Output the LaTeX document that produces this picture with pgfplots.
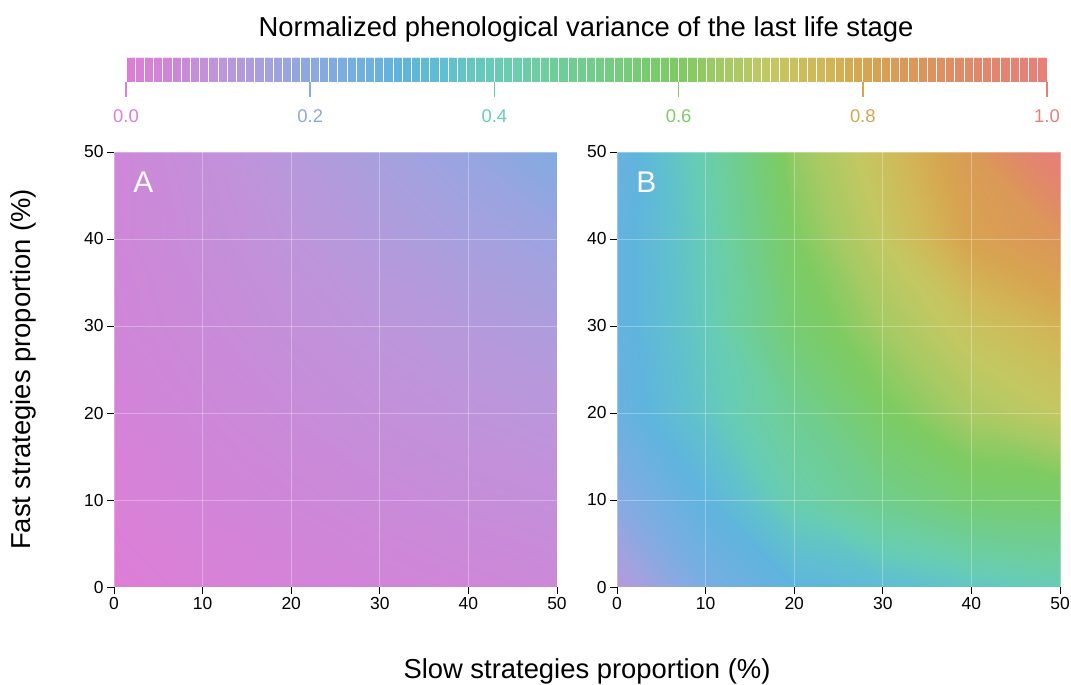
\documentclass[border=0pt]{standalone}
\usepackage{pgfplots}
\pgfplotsset{compat=1.18}
\usepackage{fontspec}
\setmainfont{Liberation Sans}
\definecolor{h0}{RGB}{222,125,215}
\definecolor{h2}{RGB}{140,168,225}
\definecolor{h4}{RGB}{103,204,182}
\definecolor{h6}{RGB}{125,203,98}
\definecolor{h8}{RGB}{215,165,80}
\definecolor{h10}{RGB}{232,126,122}
\pgfplotsset{
  colormap={hue}{
    rgb255=(222,125,215) rgb255=(206,135,216) rgb255=(190,148,218) rgb255=(168,160,222) rgb255=(140,168,225)
    rgb255=(116,175,225) rgb255=(95,180,222) rgb255=(96,192,206) rgb255=(103,204,182) rgb255=(108,206,160)
    rgb255=(113,205,140) rgb255=(118,204,118) rgb255=(125,203,98) rgb255=(165,202,100) rgb255=(195,200,98)
    rgb255=(208,185,88) rgb255=(215,165,80) rgb255=(219,152,88) rgb255=(224,140,100) rgb255=(228,132,112)
    rgb255=(232,126,122)
  },
  panel/.style={
    width=443bp, height=435bp, scale only axis,
    xmin=0, xmax=50, ymin=0, ymax=50,
    xtick={0,10,20,30,40,50}, ytick={0,10,20,30,40,50},
    axis line style={draw=none},
    tick align=outside, major tick length=7bp,
    tick style={black, line width=0.8bp},
    tick pos=left,
    tick label style={font=\fontsize{17.5}{18}\selectfont},
    /pgf/number format/assume math mode=true,
    grid=major, grid style={white, opacity=0.3, line width=0.7bp},
    axis on top,
    colormap name=hue, point meta min=0, point meta max=1,
    enlargelimits=false,
  }
}
\begin{document}
\begin{tikzpicture}
\useasboundingbox (0,0) rectangle (1071bp,685bp);
% Panel A
\begin{axis}[panel, at={(114bp,98bp)}, anchor=south west,
  ylabel={Fast strategies proportion (\%)},
  ylabel style={at={(axis description cs:-0.204,0.5)}, anchor=center, font=\fontsize{27.5}{30}\selectfont},
  xlabel={Slow strategies proportion (\%)},
  xlabel style={at={(axis description cs:1.0677,-0.193)}, anchor=center, font=\fontsize{27.5}{30}\selectfont},
  title={Normalized phenological variance of the last life stage},
  title style={at={(axis description cs:1.0658,1.269)}, anchor=center, font=\fontsize{27.5}{30}\selectfont},
  colorbar horizontal,
  colorbar sampled={surf, mark=none, shader=faceted, faceted color=white, line width=1bp},
  colorbar style={
    at={(parent axis.north west)}, anchor=south west, xshift=12bp, yshift=78bp,
    width=921bp, height=25bp, scale only axis,
    samples=101,
    xtick={0,0.2,0.4,0.6,0.8,1},
    xticklabels={\textcolor{h0}{0.0},\textcolor{h2}{0.2},\textcolor{h4}{0.4},\textcolor{h6}{0.6},\textcolor{h8}{0.8},\textcolor{h10}{1.0}},
    xtick style={draw=none}, major tick length=15bp, tick align=outside,
    xticklabel style={font=\fontsize{18.5}{20}\selectfont, yshift=-9bp},
    axis line style={draw=none},
    after end axis/.code={
      \draw[h0, line width=1.5bp] (rel axis cs:0,0) -- ++(0,-15bp);
      \draw[h2, line width=1.5bp] (rel axis cs:0.2,0) -- ++(0,-15bp);
      \draw[h4, line width=1.5bp] (rel axis cs:0.4,0) -- ++(0,-15bp);
      \draw[h6, line width=1.5bp] (rel axis cs:0.6,0) -- ++(0,-15bp);
      \draw[h8, line width=1.5bp] (rel axis cs:0.8,0) -- ++(0,-15bp);
      \draw[h10, line width=1.5bp] (rel axis cs:1,0) -- ++(0,-15bp);
    },
  },
]
\addplot[surf, shader=interp, mesh/cols=6, point meta=explicit] table[meta=z] {
x y z
0 0 0.000
10 0 0.018
20 0 0.030
30 0 0.040
40 0 0.050
50 0 0.058
0 10 0.018
10 10 0.036
20 10 0.050
30 10 0.063
40 10 0.074
50 10 0.082
0 20 0.032
10 20 0.052
20 20 0.068
30 20 0.084
40 20 0.098
50 20 0.110
0 30 0.045
10 30 0.064
20 30 0.085
30 30 0.104
40 30 0.122
50 30 0.138
0 40 0.050
10 40 0.075
20 40 0.100
30 40 0.128
40 40 0.152
50 40 0.172
0 50 0.050
10 50 0.082
20 50 0.118
30 50 0.152
40 50 0.182
50 50 0.220
};
\node[white, font=\fontsize{30}{32}\selectfont] at (axis cs:3.3,46.5) {A};
\end{axis}
% Panel B
\begin{axis}[panel, at={(617bp,98bp)}, anchor=south west]
\addplot[surf, shader=interp, mesh/cols=6, point meta=explicit] table[meta=z] {
x y z
0 0 0.12
10 0 0.24
20 0 0.30
30 0 0.33
40 0 0.37
50 0 0.40
0 10 0.21
10 10 0.30
20 10 0.42
30 10 0.50
40 10 0.56
50 10 0.57
0 20 0.27
10 20 0.37
20 20 0.48
30 20 0.59
40 20 0.66
50 20 0.70
0 30 0.28
10 30 0.39
20 30 0.56
30 30 0.65
40 30 0.72
50 30 0.77
0 40 0.28
10 40 0.40
20 40 0.60
30 40 0.70
40 40 0.81
50 40 0.86
0 50 0.27
10 50 0.42
20 50 0.63
30 50 0.73
40 50 0.84
50 50 1.00
};
\node[white, font=\fontsize{30}{32}\selectfont] at (axis cs:3.3,46.5) {B};
\end{axis}
\end{tikzpicture}
\end{document}
